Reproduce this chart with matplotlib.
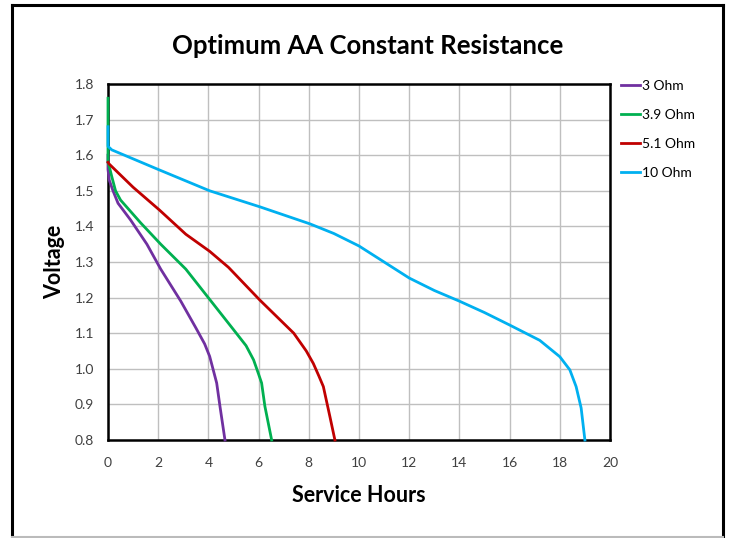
import matplotlib
matplotlib.use('Agg')
import matplotlib.pyplot as plt
from matplotlib.lines import Line2D

plt.rcParams['font.family'] = ['Lato', 'DejaVu Sans']

# discharge curves (hours, volts)
hours_3 = [0, 0, 0.05, 0.2, 0.4, 0.9, 1.55, 2.1, 2.9, 3.5, 3.85, 4.05, 4.2, 4.33, 4.46, 4.66]
volts_3 = [1.60, 1.56, 1.53, 1.50, 1.465, 1.418, 1.35, 1.28, 1.19, 1.115, 1.07, 1.035, 0.995, 0.96, 0.895, 0.80]

hours_39 = [0, 0, 0.08, 0.15, 0.3, 0.5, 1.3, 2.1, 3.1, 4.05, 5.0, 5.5, 5.8, 6.0, 6.12, 6.25, 6.52]
volts_39 = [1.76, 1.58, 1.56, 1.54, 1.50, 1.474, 1.41, 1.35, 1.28, 1.195, 1.11, 1.065, 1.025, 0.985, 0.96, 0.895, 0.80]

hours_51 = [0, 0.05, 1.0, 2.05, 3.1, 4.05, 4.8, 6.05, 7.4, 7.9, 8.18, 8.4, 8.58, 8.84, 9.04]
volts_51 = [1.58, 1.575, 1.51, 1.446, 1.378, 1.33, 1.285, 1.193, 1.10, 1.05, 1.015, 0.98, 0.95, 0.866, 0.80]

hours_10 = [0, 0, 0.15, 2, 4.05, 6.05, 8.05, 9.0, 10.0, 11.0, 12.0, 13.0, 14.0, 15.0, 16.0, 17.2, 18.0, 18.4, 18.65, 18.85, 19.0]
volts_10 = [1.68, 1.625, 1.615, 1.56, 1.50, 1.455, 1.407, 1.38, 1.345, 1.30, 1.255, 1.22, 1.19, 1.158, 1.123, 1.08, 1.034, 0.997, 0.95, 0.89, 0.80]

labels = ['3 Ohm', '3.9 Ohm', '5.1 Ohm', '10 Ohm']
colors = ['#7030A0', '#00B050', '#C00000', '#00B0F0']
series = [(hours_3, volts_3), (hours_39, volts_39), (hours_51, volts_51), (hours_10, volts_10)]

fig = plt.figure(figsize=(7.30, 5.38), dpi=100)
ax = fig.add_axes([108 / 730, 1 - 440 / 538, 502 / 730, 356 / 538])

for (h, v), lab, c in zip(series, labels, colors):
    ax.plot(h, v, color=c, lw=2.0, label=lab, solid_joinstyle='round', clip_on=False, zorder=3)

ax.set_xlim(0, 20)
ax.set_ylim(0.8, 1.8)
ax.set_xticks(range(0, 21, 2))
ax.set_yticks([0.8 + 0.1 * i for i in range(11)])
ax.set_yticklabels(['%.1f' % (0.8 + 0.1 * i) for i in range(11)])
ax.tick_params(length=0, labelsize=10, colors='#404040')
ax.tick_params(axis='x', pad=12)
ax.tick_params(axis='y', pad=10)
ax.grid(color='#BFBFBF', lw=1.0)
ax.set_axisbelow(True)
for s in ax.spines.values():
    s.set_linewidth(1.8)
    s.set_color('black')

ax.set_xlabel('Service Hours', fontsize=15.5, fontweight='bold', labelpad=12)
ax.set_ylabel('Voltage', fontsize=15.5, fontweight='bold', labelpad=7)
fig.text(0.503, 1 - 46 / 538, 'Optimum AA Constant Resistance', ha='center', va='center',
         fontsize=18.5, fontweight='bold')

ax.legend(loc='upper left', bbox_to_anchor=(1.01, 1.027), frameon=False, fontsize=10,
          handlelength=1.4, handletextpad=0.15, labelspacing=1.22, borderaxespad=0)

# chart frame
fig.add_artist(Line2D([12 / 730, 12 / 730], [0, 1 - 5 / 538], transform=fig.transFigure, color='black', lw=2.2))
fig.add_artist(Line2D([12 / 730, 723 / 730], [1 - 5 / 538, 1 - 5 / 538], transform=fig.transFigure, color='black', lw=2.2))
fig.add_artist(Line2D([723 / 730, 723 / 730], [0, 1 - 5 / 538], transform=fig.transFigure, color='black', lw=2.2))
fig.add_artist(Line2D([12 / 730, 723 / 730], [1.5 / 538, 1.5 / 538], transform=fig.transFigure, color='#BBBBBB', lw=1.5))

fig.savefig('out.png', dpi=100)
